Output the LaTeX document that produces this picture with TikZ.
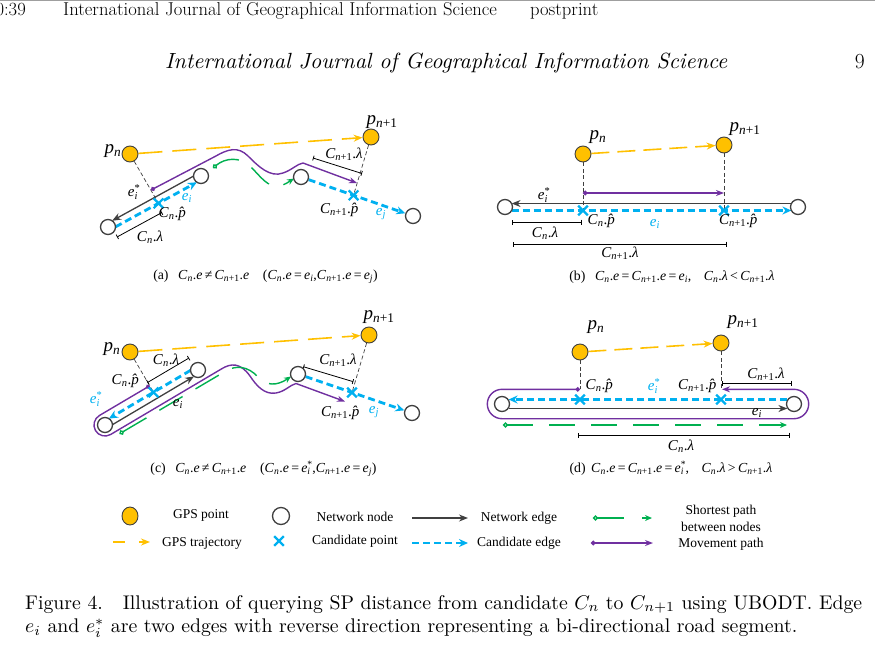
\documentclass[tikz,border=0pt]{standalone}
\usepackage{fontspec}
\usepackage{graphicx}
\usetikzlibrary{arrows.meta,calc,shapes.misc,shapes.geometric}
\newfontfamily\tms{Liberation Serif}
\definecolor{gpsor}{HTML}{FFC000}
\definecolor{edgegray}{HTML}{404040}
\definecolor{candblue}{HTML}{00B0F0}
\definecolor{spgreen}{HTML}{00B050}
\definecolor{movpur}{HTML}{7030A0}
\pgfdeclarelayer{bg}
\pgfsetlayers{bg,main}
\newcommand{\mysb}[1]{\textsubscript{#1}}
\newcommand{\myCn}{\textit{C}\mysb{\textit{n}}}
\newcommand{\myCnn}{\textit{C}\mysb{\textit{n}+1}}
\newcommand{\mylam}{\textit{λ}}
\newcommand{\myph}{\textit{p̂}}
\newcommand{\myei}{\textit{e}\mysb{\textit{i}}}
\newcommand{\myeis}{\textit{e}\rlap{\textsuperscript{*}}\mysb{\textit{i}}\hspace{0.12em}}
\newcommand{\myej}{\textit{e}\mysb{\textit{j}}}
\newcommand{\mypn}{\textit{p}\mysb{\textit{n}}}
\newcommand{\mypnn}{\textit{p}\mysb{\textit{n}+1}}
\newcommand{\mye}{\textit{e}}
\newcommand{\offedge}[4]{\draw[#1, shorten <=6.6pt, shorten >=6.6pt] ($(#2)!#4!-90:(#3)$) -- ($(#3)!#4!90:(#2)$);}
\tikzset{
  gpspt/.style={circle, fill=gpsor, draw=edgegray, line width=0.9pt, minimum size=16pt, inner sep=0pt},
  netnode/.style={circle, fill=white, draw=edgegray, line width=1.3pt, minimum size=15pt, inner sep=0pt},
  cand/.style={cross out, draw=candblue, line width=2.2pt, minimum size=7.5pt, inner sep=0pt},
  gpstraj/.style={draw=gpsor, line width=1.6pt, -{Stealth[length=9pt,width=7pt]}},
  netedge/.style={draw=edgegray, line width=1.3pt, -{Stealth[length=9pt,width=7pt]}},
  candedge/.style={draw=candblue, line width=2.8pt, dash pattern=on 7pt off 4pt, -{Stealth[length=9pt,width=8pt]}},
  movepath/.style={draw=movpur, line width=1.4pt, {Circle[length=4.5pt]}-{Stealth[length=8pt,width=6pt]}},
  sppath/.style={draw=spgreen, line width=1.4pt, {Circle[open,length=5pt,fill=white]}-{Stealth[length=7pt,width=6pt]}},
  projline/.style={draw=edgegray, line width=0.7pt, dash pattern=on 4pt off 2.5pt},
  dimline/.style={draw=black, line width=0.8pt, {Bar[width=5pt]}-{Bar[width=5pt]}},
  lbl/.style={font=\tms\fontsize{15}{17}\selectfont, inner sep=0pt},
  plbl/.style={font=\tms\fontsize{19}{21}\selectfont, inner sep=0pt},
  capt/.style={font=\tms\fontsize{13.8}{16}\selectfont, inner sep=0pt},
  leg/.style={font=\tms\fontsize{13.5}{17}\selectfont, inner sep=0pt, align=center},
  hdtxt/.style={inner sep=0pt, font=\fontsize{18.6}{22}\selectfont},
}
\begin{document}
\begin{tikzpicture}[x=1pt,y=-1pt]
\useasboundingbox (0,0) rectangle (875,664);
\fill[gray!75] (0,0) rectangle (875,1.2);
% ---------- page header ----------
\node[hdtxt, anchor=base east] (hd0) at (26,15) {10:39};
\node[hdtxt, anchor=base west] (hd1) at (63,15) {International Journal of Geographical Information Science};
\node[hdtxt, anchor=base west] (hd2) at (530,15) {postprint};
\node[anchor=base west, inner sep=0pt] (hd3) at (165,68) {\resizebox{562pt}{!}{\itshape International Journal of Geographical Information Science}};
\node[anchor=base east, inner sep=0pt, font=\fontsize{21.5}{24}\selectfont] (hd4) at (865,68) {9};
% ---------- panel (a) ----------
\node[gpspt] (pa1) at (130,154) {};
\node[gpspt] (pa2) at (371,137) {};
\node[netnode] (na1) at (108,227) {};
\node[netnode] (na2) at (201,176) {};
\node[netnode] (na3) at (301,177) {};
\node[netnode] (na4) at (413,216) {};
\node[cand] (ca1) at (158.5,203.3) {};
\node[cand] (ca2) at (353.5,195.3) {};
\node[plbl] (la1) at (113,151) {\mypn};
\node[plbl] (la2) at (382,122) {\mypnn};
\node[lbl] (la3) at (133,192) {\myeis};
\node[lbl, text=candblue] (la4) at (187,198) {\myei};
\node[lbl] (la5) at (175,214) {\myCn.\myph};
\node[lbl] (la6) at (150,237) {\myCn.\mylam};
\node[lbl] (la7) at (344,154) {\myCnn.\mylam};
\node[lbl] (la8) at (342,210) {\myCnn.\myph};
\node[lbl, text=candblue] (la9) at (381,214) {\myej};
\node[capt] (capa) at (265.5,277) {(a)\hspace{0.7em}\myCn.\mye\,≠\,\myCnn.\mye\hspace{1em}(\myCn.\mye\,=\,\myei,\myCnn.\mye\,=\,\myej)};
% ---------- panel (b) ----------
\node[gpspt] (pb1) at (583,154) {};
\node[gpspt] (pb2) at (724,145) {};
\node[netnode] (nb1) at (505,207) {};
\node[netnode] (nb2) at (798,207) {};
\node[cand] (cb1) at (583,210.5) {};
\node[cand] (cb2) at (724,210.5) {};
\node[plbl] (lb1) at (598,137) {\mypn};
\node[plbl] (lb2) at (745,129) {\mypnn};
\node[lbl] (lb3) at (543,195) {\myeis};
\node[lbl] (lb4) at (604,221) {\myCn.\myph};
\node[lbl, text=candblue] (lb5) at (655,224) {\myei};
\node[lbl] (lb6) at (741,221) {\myCnn.\myph};
\node[lbl] (lb7) at (545,233) {\myCn.\mylam};
\node[lbl] (lb8) at (620,253) {\myCnn.\mylam};
\node[capt] (capb) at (672,277) {(b)\hspace{0.7em}\myCn.\mye\,=\,\myCnn.\mye\,=\,\myei,\hspace{0.9em}\myCn.\mylam\,<\,\myCnn.\mylam};
% ---------- panel (c) ----------
\node[gpspt] (pc1) at (130,352) {};
\node[gpspt] (pc2) at (369,335) {};
\node[netnode] (nc1) at (105,425) {};
\node[netnode] (nc2) at (198,370) {};
\node[netnode] (nc3) at (298,374) {};
\node[netnode] (nc4) at (412,413) {};
\node[cand] (cc1) at (153.5,392.3) {};
\node[cand] (cc2) at (352,392.5) {};
\node[plbl] (lc1) at (112,349) {\mypn};
\node[plbl] (lc2) at (379,317) {\mypnn};
\node[lbl] (lc3) at (166,360) {\myCn.\mylam};
\node[lbl] (lc4) at (128,381) {\myCn.\myph};
\node[lbl, text=candblue] (lc5) at (95,399) {\myeis};
\node[lbl] (lc6) at (178,404) {\myei};
\node[lbl] (lc7) at (338,360) {\myCnn.\mylam};
\node[lbl] (lc8) at (343,413) {\myCnn.\myph};
\node[lbl, text=candblue] (lc9) at (374,412) {\myej};
\node[capt] (capc) at (263.5,469) {(c)\hspace{0.7em}\myCn.\mye\,≠\,\myCnn.\mye\hspace{1em}(\myCn.\mye\,=\,\myeis,\myCnn.\mye\,=\,\myej)};
% ---------- panel (d) ----------
\node[gpspt] (pd1) at (580,352) {};
\node[gpspt] (pd2) at (721,343) {};
\node[netnode] (nd1) at (502,404) {};
\node[netnode] (nd2) at (794,404) {};
\node[cand] (cd1) at (580,399.5) {};
\node[cand] (cd2) at (721,399.5) {};
\coordinate (md1) at (580,389.3);
\coordinate (md2) at (721,388);
\node[plbl] (ld1) at (596,327) {\mypn};
\node[plbl] (ld2) at (743,322) {\mypnn};
\node[lbl] (ld3) at (602,386) {\myCn.\myph};
\node[lbl, text=candblue] (ld4) at (653,386) {\myeis};
\node[lbl] (ld5) at (700,386) {\myCnn.\myph};
\node[lbl] (ld6) at (757,413) {\myei};
\node[lbl] (ld7) at (766,374) {\myCnn.\mylam};
\node[lbl] (ld8) at (681,446) {\myCn.\mylam};
\node[capt] (capd) at (671,468) {(d)\hspace{0.4em}\myCn.\mye\,=\,\myCnn.\mye\,=\,\myeis,\hspace{0.9em}\myCn.\mylam\,>\,\myCnn.\mylam};
% ---------- legend ----------
\node[gpspt, ellipse, minimum width=16pt, minimum height=18pt] (lg1) at (130,516) {};
\node[leg] (lt1) at (201,515) {GPS point};
\node[netnode, minimum size=17pt] (lg2) at (281,516) {};
\node[leg] (lt2) at (355,517) {Network node};
\coordinate (lg3a) at (412,518);
\coordinate (lg3b) at (468,518);
\node[leg] (lt3) at (519,518) {Network edge};
\coordinate (lg4a) at (593,518);
\coordinate (lg4b) at (652,518);
\node[leg] (lt4) at (721,518.5) {Shortest path\\between nodes};
\coordinate (lg5a) at (113,542);
\coordinate (lg5b) at (150,542);
\node[leg] (lt5) at (202,543) {GPS trajectory};
\node[cand] (lg6) at (279,541) {};
\node[leg] (lt6) at (355,541) {Candidate point};
\coordinate (lg7a) at (412,543);
\coordinate (lg7b) at (468,543);
\node[leg] (lt7) at (519,543) {Candidate edge};
\coordinate (lg8a) at (591,543);
\coordinate (lg8b) at (653,543);
\node[leg] (lt8) at (721,544) {Movement path};
% ---------- caption ----------
\node[anchor=base west, inner sep=0pt] (figcap) at (25,609) {\resizebox{837pt}{!}{\begin{tabular}[t]{@{}l@{}}Figure 4.\quad Illustration of querying SP distance from candidate $C_n$ to $C_{n+1}$ using UBODT. Edge\\$e_i$ and $e_i^*$ are two edges with reverse direction representing a bi-directional road segment.\end{tabular}}};
% ---------- connectors ----------
\begin{pgfonlayer}{bg}
% (a)
\draw[gpstraj, dash pattern=on 24pt off 10pt] (pa1) -- (pa2);
\offedge{netedge}{na2}{na1}{3.5pt}
\offedge{candedge}{na1}{na2}{3.5pt}
\draw[candedge] (na3) -- (na4);
\draw[projline] (pa1) -- (ca1.center);
\draw[projline] (pa2) -- (ca2.center);
\draw[movepath] (151,190) -- (215,156.5) .. controls (228,149) and (238,146) .. (248,156) .. controls (258,166) and (270,178) .. (283,173) .. controls (292,170) and (297,164) .. (303,163) -- (357,183);
\draw[sppath, dash pattern=on 24pt off 15pt] (213,168) .. controls (225,158) and (240,156) .. (251,167) .. controls (260,176) and (268,188) .. (279,186) .. controls (285,185) and (290,181) .. (294,178.5);
\draw[dimline] (117,237) -- (162,212.5);
\draw[dimline] (313,158) -- (362,173.5);
% (b)
\draw[gpstraj, dash pattern=on 18pt off 8pt] (pb1) -- (pb2);
\offedge{netedge}{nb2}{nb1}{3.5pt}
\offedge{candedge}{nb1}{nb2}{3.5pt}
\draw[projline] (pb1) -- (cb1.center);
\draw[projline] (pb2) -- (cb2.center);
\draw[movepath] (583,193) -- (724,193);
\draw[dimline] (512,222) -- (582,222);
\draw[dimline] (513,244) -- (727,244);
% (c)
\draw[gpstraj, dash pattern=on 24pt off 10pt] (pc1) -- (pc2);
\offedge{candedge}{nc2}{nc1}{3.5pt}
\offedge{netedge}{nc1}{nc2}{3.5pt}
\draw[candedge] (nc3) -- (nc4);
\draw[projline] (pc1) -- (cc1.center);
\draw[projline] (pc2) -- (cc2.center);
\draw[movepath] (149.9,385.7) -- (99.4,415.5) .. controls (94.2,418.6) and (92.4,425.4) .. (95.5,430.6) .. controls (98.6,435.8) and (105.4,437.6) .. (110.6,434.5) -- (222,368.6) .. controls (230.6,363.5) and (240,362) .. (250,376) .. controls (256,385) and (264,395) .. (276,393) .. controls (285,391.5) and (290,385) .. (296,383.5) -- (345,401.5);
\draw[sppath, dash pattern=on 27pt off 15pt] (119.5,433.8) -- (226,370.9) .. controls (236,365) and (248,366) .. (258,377) .. controls (266,386) and (277,386) .. (291,376.5);
\draw[dimline] (189,358) -- (147.5,382.5);
\draw[dimline] (303.3,366.7) -- (353.3,381.7);
% (d)
\draw[gpstraj, dash pattern=on 18pt off 8pt] (pd1) -- (pd2);
\offedge{candedge}{nd2}{nd1}{4.5pt}
\offedge{netedge}{nd1}{nd2}{4.5pt}
\draw[projline] (pd1) -- (md1);
\draw[projline] (pd2) -- (md2);
\draw[movepath, rounded corners=14.7pt] (md1) -- (487.3,389.3) -- (487.3,418.7) -- (808.7,418.7) -- (808.7,389.3) -- (722,389.3);
\draw[sppath, dash pattern=on 26pt off 16pt] (503,425) -- (787,425);
\draw[dimline] (578,435) -- (790,435);
\draw[dimline] (722,383) -- (792,383);
% legend
\draw[netedge] (lg3a) -- (lg3b);
\draw[sppath, dash pattern=on 27pt off 18pt] (lg4a) -- (lg4b);
\draw[gpstraj, dash pattern=on 12pt off 14pt] (lg5a) -- (lg5b);
\draw[candedge] (lg7a) -- (lg7b);
\draw[movepath] (lg8a) -- (lg8b);
\end{pgfonlayer}
\end{tikzpicture}
\end{document}
